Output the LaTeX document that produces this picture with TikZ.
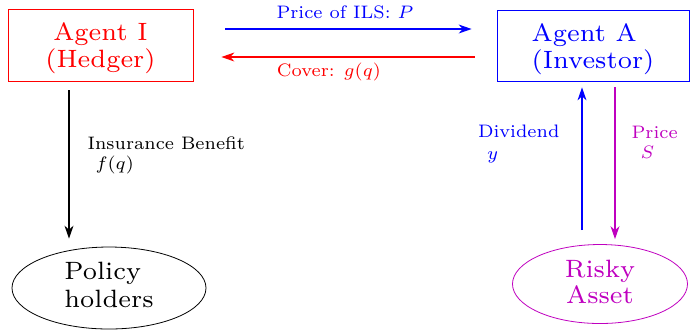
\documentclass[tikz,border=0pt]{standalone}
\usepackage{graphicx}
\usetikzlibrary{shapes.geometric,arrows.meta,calc}
\definecolor{mag}{RGB}{191,0,191}
\newcommand{\stk}[4]{\scalebox{#1}{\fontsize{7}{#2}\selectfont\begin{tabular}{@{}#3@{}}#4\end{tabular}}}
\newcommand{\padtop}[2]{\raisebox{0pt}[\dimexpr\height+#1\relax][\depth]{#2}}
\begin{document}
\begin{tikzpicture}[x=0.5pt,y=-0.5pt,
  agentbox/.style={draw,rectangle,inner sep=0pt},
  ellbox/.style={draw,ellipse,inner sep=0pt},
  lbl/.style={inner sep=0pt},
  arr/.style={-{Stealth[length=6.5pt,width=4.5pt]},line width=0.6pt}]
\useasboundingbox (0,0) rectangle (690,329);
\node[agentbox,red,minimum width=92.5pt,minimum height=36pt] (hedger) at (100.5,45) {\padtop{4pt}{\stk{1.79}{7.3}{c}{Agent I\\(Hedger)}}};
\node[agentbox,blue,minimum width=96pt,minimum height=35.5pt] (investor) at (593,45.5) {\padtop{4pt}{\stk{1.79}{7.4}{l}{Agent A\\(Investor)}}};
\node[ellbox,minimum width=97pt,minimum height=41pt] (policy) at (109,288) {\stk{1.79}{7.6}{l}{Policy\\holders}};
\node[ellbox,mag,minimum width=87.5pt,minimum height=39.5pt] (risky) at (600,284) {\padtop{1pt}{\stk{1.79}{7.3}{c}{Risky\\Asset}}};
% horizontal arrows
\draw[arr,blue,shorten <=16pt,shorten >=12.5pt] ([yshift=8pt]hedger.east) -- ([yshift=8pt]hedger.east -| investor.west)
  node[lbl,midway,above=7.5pt,anchor=center] (plabel) {\stk{1.29}{7.8}{l}{Price of ILS: $P$}};
\draw[arr,red,shorten <=11pt,shorten >=14pt] ([yshift=-6pt]hedger.east -| investor.west) -- ([yshift=-6pt]hedger.east)
  node[lbl,pos=0.553,below=7.5pt,anchor=center] (clabel) {\stk{1.29}{7.8}{l}{Cover: $g(q)$}};
% vertical arrows
\draw[arr,black,shorten <=4.5pt,shorten >=4pt] ([xshift=-15.75pt]hedger.south) -- ([xshift=-15.75pt]hedger.south |- policy.north)
  node[lbl,pos=0.446,anchor=west,xshift=9pt] (ilabel) {\stk{1.29}{7.8}{l}{Insurance Benefit\\\hspace*{3.1pt}$f(q)$}};
\draw[arr,blue,shorten <=7pt,shorten >=3pt] ([xshift=-5.5pt]investor.south |- risky.north) -- ([xshift=-5.5pt]investor.south)
  node[lbl,pos=0.615,anchor=east,xshift=-11pt] (dlabel) {\stk{1.29}{8.3}{l}{Dividend\\\hspace*{3.5pt}$y$}};
\draw[arr,mag,shorten <=3pt,shorten >=2.5pt] ([xshift=11pt]investor.south) -- ([xshift=11pt]investor.south |- risky.north)
  node[lbl,pos=0.39,anchor=west,xshift=8pt] (slabel) {\stk{1.29}{7.8}{l}{Price\\\hspace*{3.5pt}$S$}};
\end{tikzpicture}
\end{document}
